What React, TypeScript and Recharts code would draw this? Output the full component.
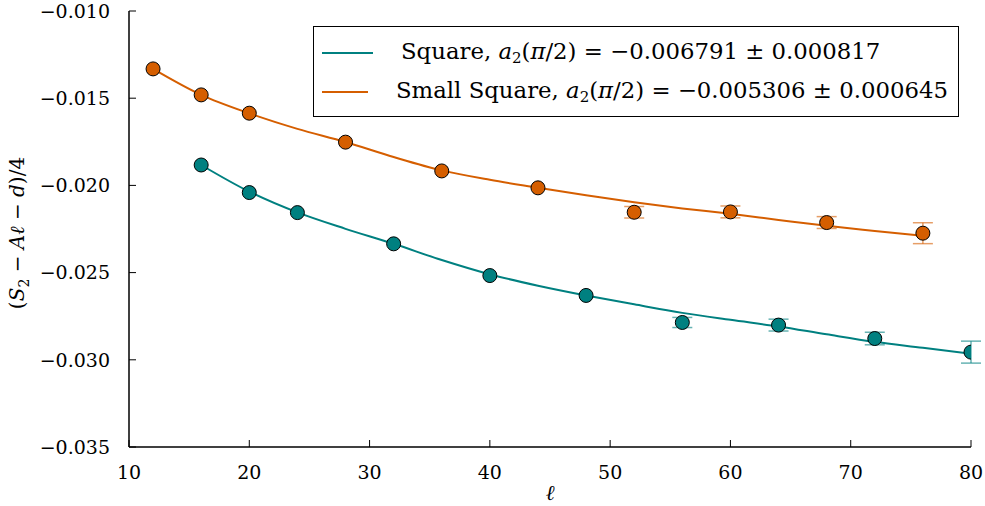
import React from 'react';
import {
  ComposedChart,
  Line,
  Scatter,
  ErrorBar,
  XAxis,
  YAxis,
  Legend,
} from 'recharts';

// measured points, ℓ vs (S2 - Aℓ - d)/4
const squareL = [16, 20, 24, 32, 40, 48, 56, 64, 72, 80];
const squareV = [-0.01883, -0.02041, -0.02156, -0.02335, -0.02517, -0.02631, -0.02786, -0.02801, -0.02878, -0.02956];
const squareErr = [0, 0, 0, 0, 0, 0, 0.00029, 0.00034, 0.00036, 0.00063];

const smallL = [12, 16, 20, 28, 36, 44, 52, 60, 68, 76];
const smallV = [-0.01332, -0.01481, -0.01586, -0.01752, -0.01917, -0.02014, -0.02154, -0.02152, -0.02213, -0.02274];
const smallErr = [0, 0, 0, 0, 0, 0, 0.00033, 0.00034, 0.00034, 0.0006];

// fit curves
const squareFitL = [16, 20, 24, 28, 32, 36, 40, 44, 48, 52, 56, 60, 64, 68, 72, 76, 80];
const squareFitV = [-0.01883, -0.02036, -0.02155, -0.02249, -0.02335, -0.02428, -0.02510, -0.02575, -0.02631, -0.02682, -0.02731, -0.02771, -0.02809, -0.02854, -0.02897, -0.02931, -0.02966];
const smallFitL = [12, 16, 20, 24, 28, 32, 36, 40, 44, 48, 52, 56, 60, 64, 68, 72, 76];
const smallFitV = [-0.01332, -0.01481, -0.01587, -0.01676, -0.01751, -0.01837, -0.01914, -0.01968, -0.02013, -0.02057, -0.02097, -0.02132, -0.02163, -0.02198, -0.02232, -0.02261, -0.02289];

const xTicks = [10, 20, 30, 40, 50, 60, 70, 80];
const yTicks = [-0.035, -0.03, -0.025, -0.02, -0.015, -0.01];

const TEAL = '#008080';
const ORANGE = '#d55e00';
const FONT = '"DejaVu Serif", serif';

const squarePts = squareL.map((l, i) => ({ l, v: squareV[i], err: squareErr[i] }));
const smallPts = smallL.map((l, i) => ({ l, v: smallV[i], err: smallErr[i] }));
const squareFit = squareFitL.map((l, i) => ({ l, v: squareFitV[i] }));
const smallFit = smallFitL.map((l, i) => ({ l, v: smallFitV[i] }));

const fmtY = (v: number) => (v < 0 ? '\u2212' : '') + Math.abs(v).toFixed(3);

const dot = (fill: string) => (p: any) => (
  <circle cx={p.cx} cy={p.cy} r={7} fill={fill} stroke="#000" strokeWidth={1} />
);
const noDot = () => <g />;

const legendRows = [
  { name: 'Square', color: TEAL, value: '\u22120.006791 \u00b1 0.000817' },
  { name: 'Small Square', color: ORANGE, value: '\u22120.005306 \u00b1 0.000645' },
];

function LegendBox() {
  return (
    <div
      style={{
        border: '1.5px solid #000',
        background: '#fff',
        padding: '6px 10px 6px 8px',
        fontFamily: FONT,
        fontSize: 22.8,
        color: '#000',
        boxSizing: 'border-box',
        width: 646,
        height: 91,
      }}
    >
      {legendRows.map(r => (
        <div key={r.name} style={{ display: 'flex', alignItems: 'center', height: 39, whiteSpace: 'nowrap' }}>
          <div style={{ width: 51, height: 2, background: r.color, marginRight: 28 }} />
          <span>
            {r.name}, <i>a</i>
            <sub style={{ fontSize: 15, verticalAlign: -4 }}>2</sub>(<i>π</i>/2) = {r.value}
          </span>
        </div>
      ))}
    </div>
  );
}

const YLabel = () => (
  <text
    x={24}
    y={233}
    transform="rotate(-90, 24, 233)"
    textAnchor="middle"
    fontFamily={FONT}
    fontSize={20}
    fill="#000"
  >
    (<tspan fontStyle="italic">S</tspan>
    <tspan fontSize={14} dy={5}>2</tspan>
    <tspan dy={-5}> − </tspan>
    <tspan fontStyle="italic">Aℓ</tspan> − <tspan fontStyle="italic">d</tspan>)/4
  </text>
);

const XLabel = () => (
  <text x={550} y={500} textAnchor="middle" fontFamily={FONT} fontSize={21} fontStyle="italic" fill="#000">
    ℓ
  </text>
);

export default function App() {
  const axisLine = { stroke: '#000', strokeWidth: 1.5 };
  const tickLine = { stroke: '#000', strokeWidth: 1 };
  const tickStyle = { fill: '#000', fontSize: 19, fontFamily: FONT };
  return (
    <div style={{ position: 'absolute', left: 0, top: 0, width: 985, height: 506, background: '#fff' }}>
      <ComposedChart width={985} height={506} margin={{ top: 11, right: 14, bottom: 0, left: 0 }}>
        <XAxis
          xAxisId="b"
          type="number"
          dataKey="l"
          domain={[10, 80]}
          ticks={xTicks}
          allowDataOverflow
          height={59}
          axisLine={axisLine}
          tickLine={tickLine}
          tickSize={-7}
          tickMargin={26}
          tick={tickStyle}
          label={<XLabel />}
        />
        <XAxis
          xAxisId="t"
          orientation="top"
          type="number"
          dataKey="l"
          domain={[10, 80]}
          ticks={xTicks}
          height={0}
          axisLine={axisLine}
          tickLine={tickLine}
          tickSize={-7}
          tick={false}
        />
        <YAxis
          yAxisId="l"
          type="number"
          domain={[-0.035, -0.01]}
          ticks={yTicks}
          allowDataOverflow
          width={129}
          axisLine={axisLine}
          tickLine={tickLine}
          tickSize={-7}
          tickMargin={26}
          tick={tickStyle}
          tickFormatter={fmtY}
          label={<YLabel />}
        />
        <YAxis
          yAxisId="r"
          orientation="right"
          type="number"
          domain={[-0.035, -0.01]}
          ticks={yTicks}
          width={0}
          axisLine={axisLine}
          tickLine={tickLine}
          tickSize={-7}
          tick={false}
        />
        <Legend
          layout="horizontal"
          verticalAlign="middle"
          align="center"
          content={<LegendBox />}
          wrapperStyle={{ left: 313, top: 26, width: 646, height: 91 }}
        />
        <Line
          xAxisId="b"
          yAxisId="l"
          data={squareFit}
          dataKey="v"
          type="monotone"
          stroke={TEAL}
          strokeWidth={2}
          dot={false}
          activeDot={false}
          isAnimationActive={false}
          legendType="none"
        />
        <Line
          xAxisId="b"
          yAxisId="l"
          data={smallFit}
          dataKey="v"
          type="monotone"
          stroke={ORANGE}
          strokeWidth={2}
          dot={false}
          activeDot={false}
          isAnimationActive={false}
          legendType="none"
        />
        {/* error bars first so the markers sit on top of them */}
        <Scatter xAxisId="b" yAxisId="l" data={squarePts} dataKey="v" shape={noDot} isAnimationActive={false}>
          <ErrorBar dataKey="err" direction="y" width={10} stroke={TEAL} strokeOpacity={0.6} strokeWidth={1.5} />
        </Scatter>
        <Scatter xAxisId="b" yAxisId="l" data={smallPts} dataKey="v" shape={noDot} isAnimationActive={false}>
          <ErrorBar dataKey="err" direction="y" width={10} stroke={ORANGE} strokeOpacity={0.6} strokeWidth={1.5} />
        </Scatter>
        <Scatter xAxisId="b" yAxisId="l" data={squarePts} dataKey="v" shape={dot(TEAL)} isAnimationActive={false} />
        <Scatter xAxisId="b" yAxisId="l" data={smallPts} dataKey="v" shape={dot(ORANGE)} isAnimationActive={false} />
      </ComposedChart>
    </div>
  );
}
